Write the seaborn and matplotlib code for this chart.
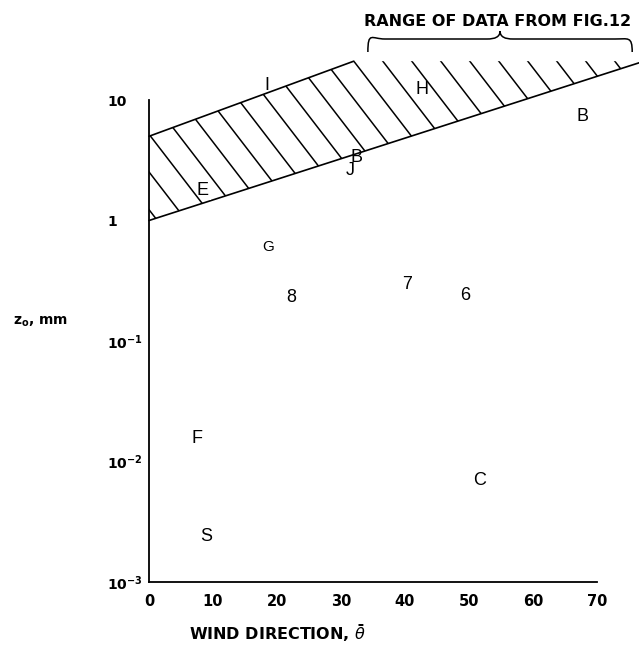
import numpy as np
import pandas as pd
import matplotlib
matplotlib.use("Agg")
import matplotlib.pyplot as plt
import seaborn as sns
from matplotlib.patches import Polygon, PathPatch
from matplotlib.path import Path
from matplotlib.collections import LineCollection
from matplotlib.transforms import IdentityTransform
from matplotlib.ticker import NullLocator

# ---------------- data ----------------
point_labels = ["I", "H", "B", "B", "J", "E", "G", "8", "7", "6", "F", "C", "S"]
point_x = [18.4, 42.6, 67.7, 32.5, 31.4, 8.4, 18.6, 22.3, 40.3, 49.4, 7.5, 51.6, 9.0]
point_y = [13.25, 12.3, 7.33, 3.36, 2.62, 1.79, 0.60, 0.228, 0.292, 0.237, 0.0155, 0.0070, 0.00239]

band_lower_x = [0, 77]
band_lower_y = [1.0, 20.7]
band_upper_x = [0, 32]
band_upper_y = [5.0, 21.0]

x_ticks = [0, 10, 20, 30, 40, 50, 60, 70]
y_ticks = [1e-3, 1e-2, 1e-1, 1, 10]
y_tick_labels = [r"10$^{-3}$", r"10$^{-2}$", r"10$^{-1}$", "1", "10"]
brace_x = [34.2, 75.5]
range_text = "RANGE OF DATA FROM FIG.12"

# ---------------- style ----------------
sns.set_theme(style="white")
plt.rcParams["font.family"] = ["Liberation Sans", "DejaVu Sans"]
plt.rcParams["mathtext.fontset"] = "dejavusans"
plt.rcParams["mathtext.default"] = "bf"
plt.rcParams["text.color"] = "black"
plt.rcParams["axes.labelcolor"] = "black"
BOLD = ["DejaVu Sans"]

W, H = 639, 658
DPI = 100
fig = plt.figure(figsize=(W / DPI, H / DPI), dpi=DPI)
ax = fig.add_axes([149 / W, (H - 582) / H, 448 / W, 482 / H])
ax.set_yscale("log")
ax.set_xlim(0, 70)
ax.set_ylim(1e-3, 10)

# band boundary lines
sns.lineplot(x=band_lower_x, y=band_lower_y, ax=ax, color="black", lw=1.2, sort=False)
sns.lineplot(x=band_upper_x, y=band_upper_y, ax=ax, color="black", lw=1.2, sort=False)
for ln in ax.lines:
    ln.set_clip_on(False)

# hatched band region
poly_pts = [(band_lower_x[0], band_lower_y[0]), (band_lower_x[1], band_lower_y[1]),
            (band_lower_x[1], band_upper_y[1]), (band_upper_x[1], band_upper_y[1]),
            (band_upper_x[0], band_upper_y[0])]
band_patch = Polygon(poly_pts, closed=True, transform=ax.transData,
                     facecolor="none", edgecolor="none")
disp = ax.transData.transform(poly_pts)
ymin, ymax = disp[:, 1].min() - 20, disp[:, 1].max() + 20
corner = ax.transData.transform((band_upper_x[1], band_upper_y[1]))
slope = 1.3
spacing = 29.0
segs = []
for k in range(-40, 40):
    x0 = corner[0] + k * spacing
    xa = x0 + (corner[1] - ymax) / slope
    xb = x0 + (corner[1] - ymin) / slope
    segs.append([(xa, ymax), (xb, ymin)])
hatch = LineCollection(segs, colors="black", linewidths=1.1, transform=IdentityTransform())
fig.add_artist(hatch)
hatch.set_clip_path(band_patch)

# point letters
for lab, px, py in zip(point_labels, point_x, point_y):
    size = 11 if lab == "G" else 13
    kw = {}
    if lab in ("H", "E"):
        kw["bbox"] = dict(boxstyle="square,pad=0.1", fc="white", ec="none")
    ax.text(px, py, lab, ha="center", va="center", fontsize=size,
            color="black", clip_on=False, zorder=5, **kw)

# axes styling
for s in ["top", "right"]:
    ax.spines[s].set_visible(False)
for s in ["left", "bottom"]:
    ax.spines[s].set_linewidth(1.3)
    ax.spines[s].set_color("black")
ax.yaxis.set_minor_locator(NullLocator())
ax.set_xticks(x_ticks)
ax.set_xticklabels([str(t) for t in x_ticks], fontweight="bold", family=BOLD)
ax.set_yticks(y_ticks)
ax.set_yticklabels(y_tick_labels, ha="left", fontweight="bold", family=BOLD)
ax.tick_params(axis="x", direction="in", length=6, width=1.2, labelsize=10.5, pad=9, colors="black")
ax.tick_params(axis="y", direction="in", length=6, width=1.2, labelsize=10, pad=30, colors="black")

ax.set_xlabel(r"WIND DIRECTION, $\bar{\mathit{\theta}}$", fontsize=11.5, fontweight="bold",
              va="center", family=BOLD, color="black")
ax.xaxis.set_label_coords((278 - 149) / 448, (582 - 633) / 482)
ax.set_ylabel(r"z$_{\mathbf{o}}$, mm", fontsize=10, fontweight="bold", rotation=0,
              ha="center", va="center", family=BOLD, color="black")
ax.yaxis.set_label_coords((41 - 149) / 448, (582 - 322) / 482)

# brace over range of data
xl = ax.transData.transform((brace_x[0], 1))[0]
xr = ax.transData.transform((brace_x[1], 1))[0]
xm = (xl + xr) / 2
y_end, y_bar, y_peak = H - 52, H - 39, H - 31
verts = [(xl, y_end),
         (xl, y_bar + 8), (xl + 4, y_bar), (xl + 17, y_bar),
         (xm - 13, y_bar),
         (xm - 5, y_bar), (xm, y_bar + 2), (xm, y_peak),
         (xm, y_bar + 2), (xm + 5, y_bar), (xm + 13, y_bar),
         (xr - 17, y_bar),
         (xr - 4, y_bar), (xr, y_bar + 3), (xr, y_end)]
codes = [Path.MOVETO,
         Path.CURVE4, Path.CURVE4, Path.CURVE4,
         Path.LINETO,
         Path.CURVE4, Path.CURVE4, Path.CURVE4,
         Path.CURVE4, Path.CURVE4, Path.CURVE4,
         Path.LINETO,
         Path.CURVE4, Path.CURVE4, Path.CURVE4]
brace = PathPatch(Path(verts, codes), transform=IdentityTransform(),
                  facecolor="none", edgecolor="black", lw=1.1)
fig.add_artist(brace)
fig.text(498 / W, 1 - 21 / H, range_text, ha="center", va="center",
         fontsize=11.5, fontweight="bold", color="black", family=BOLD)

fig.savefig("out.png", dpi=DPI, facecolor="white")
